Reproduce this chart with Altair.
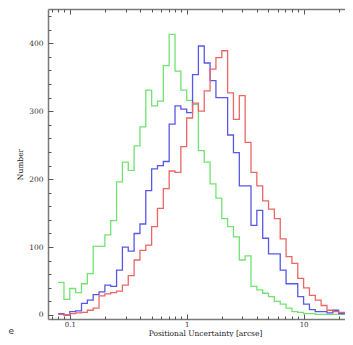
import altair as alt
import pandas as pd

# log10 of histogram bin edges (52 edges -> 51 bins)
edges_log = [-1.10, -1.05, -1.00, -0.95, -0.90, -0.85, -0.80, -0.75, -0.70, -0.65,
             -0.60, -0.55, -0.50, -0.45, -0.40, -0.35, -0.30, -0.25, -0.20, -0.15,
             -0.10, -0.05, 0.00, 0.05, 0.10, 0.15, 0.20, 0.25, 0.30, 0.35,
             0.40, 0.45, 0.50, 0.55, 0.60, 0.65, 0.70, 0.75, 0.80, 0.85,
             0.90, 0.95, 1.00, 1.05, 1.10, 1.15, 1.20, 1.25, 1.30, 1.35,
             1.40, 1.45]

green = [48, 23, 39, 33, 46, 61, 101, 101, 118, 139,
         196, 225, 213, 249, 277, 331, 308, 315, 367, 413,
         359, 331, 316, 310, 242, 225, 193, 172, 142, 130,
         115, 81, 87, 42, 37, 32, 27, 20, 16, 10,
         5, 4, 2, 2, 1, 1, 1, 1, 1, 1, 1]
blue = [2, 0, 5, 6, 17, 22, 30, 34, 44, 42,
        66, 100, 94, 120, 134, 183, 215, 220, 226, 281,
        308, 303, 298, 354, 396, 371, 345, 320, 320, 265,
        239, 190, 190, 132, 154, 113, 90, 90, 66, 46,
        46, 27, 16, 8, 5, 5, 3, 7, 2, 2, 2]
red = [1, 0, 2, 3, 4, 7, 10, 28, 31, 33,
       35, 44, 58, 81, 95, 103, 130, 157, 186, 212,
       210, 248, 290, 312, 300, 330, 362, 379, 389, 327,
       288, 323, 254, 210, 190, 168, 156, 142, 112, 86,
       76, 54, 40, 29, 22, 14, 7, 5, 4, 3, 3]

series_names = ["green", "blue", "red"]
series_colors = ["#72e272", "#5858e8", "#ec6666"]

x_major = [0.1, 1, 10]
x_minor = [0.07, 0.08, 0.09, 0.2, 0.3, 0.4, 0.5, 0.6, 0.7, 0.8, 0.9,
           2, 3, 4, 5, 6, 7, 8, 9, 20]
y_major = [0, 100, 200, 300, 400]
y_minor = [20, 40, 60, 80, 120, 140, 160, 180, 220, 240, 260, 280,
           320, 340, 360, 380, 420, 440]

rows = []
for name, counts in zip(series_names, [green, blue, red]):
    for k, c in enumerate(counts):
        rows.append({"series": name, "x": 10 ** edges_log[k], "count": c, "k": k})
    rows.append({"series": name, "x": 10 ** edges_log[len(counts)], "count": counts[-1],
                 "k": len(counts)})
df = pd.DataFrame(rows)

W, H = 297, 310
xscale = alt.Scale(type="log", domain=[0.06508, 22.60], nice=False)
yscale = alt.Scale(domain=[-5.9, 450.5], nice=False, zero=False)

AX = "#7a7a7a"
TK = "#555555"
FONT = "DejaVu Serif"

base = alt.Chart(df)

lines = base.mark_line(interpolate="step-after", clip=True, strokeWidth=1.3).encode(
    x=alt.X("x:Q", scale=xscale, axis=alt.Axis(
        orient="bottom", values=x_major, format="~g", ticks=False, tickSize=0,
        labelPadding=1.5, domain=True, domainColor=AX, domainWidth=1.5, grid=False,
        labelFont=FONT, labelFontSize=7, labelColor="#333",
        title="Positional Uncertainty [arcse]", titleFont=FONT, titleFontSize=7.5,
        titleFontWeight="normal", titleColor="#222", titleX=157, titleY=14.5,
        titleAlign="center", titleBaseline="middle")),
    y=alt.Y("count:Q", scale=yscale, axis=alt.Axis(
        orient="left", values=y_major, ticks=False, tickSize=0, labelPadding=5,
        domain=True, domainColor=AX, domainWidth=1.5, grid=False,
        labelFont=FONT, labelFontSize=7.5, labelColor="#333",
        title="Number", titleFont=FONT, titleFontSize=7.5, titleFontWeight="normal",
        titleColor="#222", titleX=-28, titleY=155, titleAlign="center",
        titleBaseline="middle")),
    color=alt.Color("series:N", scale=alt.Scale(domain=series_names, range=series_colors),
                    legend=None),
    order="k:Q",
)

def tick_layer(x_axis, y_axis):
    return base.mark_point(opacity=0, size=1).encode(
        x=alt.X("x:Q", scale=xscale, axis=x_axis),
        y=alt.Y("count:Q", scale=yscale, axis=y_axis),
    )

def xt(orient, offset, vals, size, domain=False):
    return alt.Axis(orient=orient, offset=offset, values=vals, labels=False, ticks=True,
                    tickSize=size, tickColor=TK, tickWidth=1, domain=domain,
                    domainColor=AX, domainWidth=1.5, grid=False, title=None)

def yt(vals, size):
    return alt.Axis(orient="right", offset=-W, values=vals, labels=False, ticks=True,
                    tickSize=size, tickColor=TK, tickWidth=1, domain=False,
                    grid=False, title=None)

l_bot_major = tick_layer(xt("top", -H, x_major, 5), yt(y_major, 5))
l_bot_minor = tick_layer(xt("top", -H, x_minor, 3), yt(y_minor, 3))
l_top_major = tick_layer(xt("bottom", -H, x_major, 5, domain=True), None)
l_top_minor = tick_layer(xt("bottom", -H, x_minor, 3), None)

stray = alt.Chart(pd.DataFrame({"t": ["e"]})).mark_text(
    font="DejaVu Sans", fontSize=9, color="#333", align="left", baseline="middle"
).encode(text="t:N", x=alt.value(-39.5), y=alt.value(321.5))

chart = alt.layer(
    lines, l_bot_major, l_bot_minor, l_top_major, l_top_minor, stray
).resolve_axis(x="independent", y="independent").properties(
    width=W, height=H,
    autosize=alt.AutoSizeParams(type="none"),
    padding={"left": 40, "top": 1, "right": 0, "bottom": 18},
).configure_view(stroke=None)

chart.save("out.html", embed_options={"renderer": "svg", "actions": False})
